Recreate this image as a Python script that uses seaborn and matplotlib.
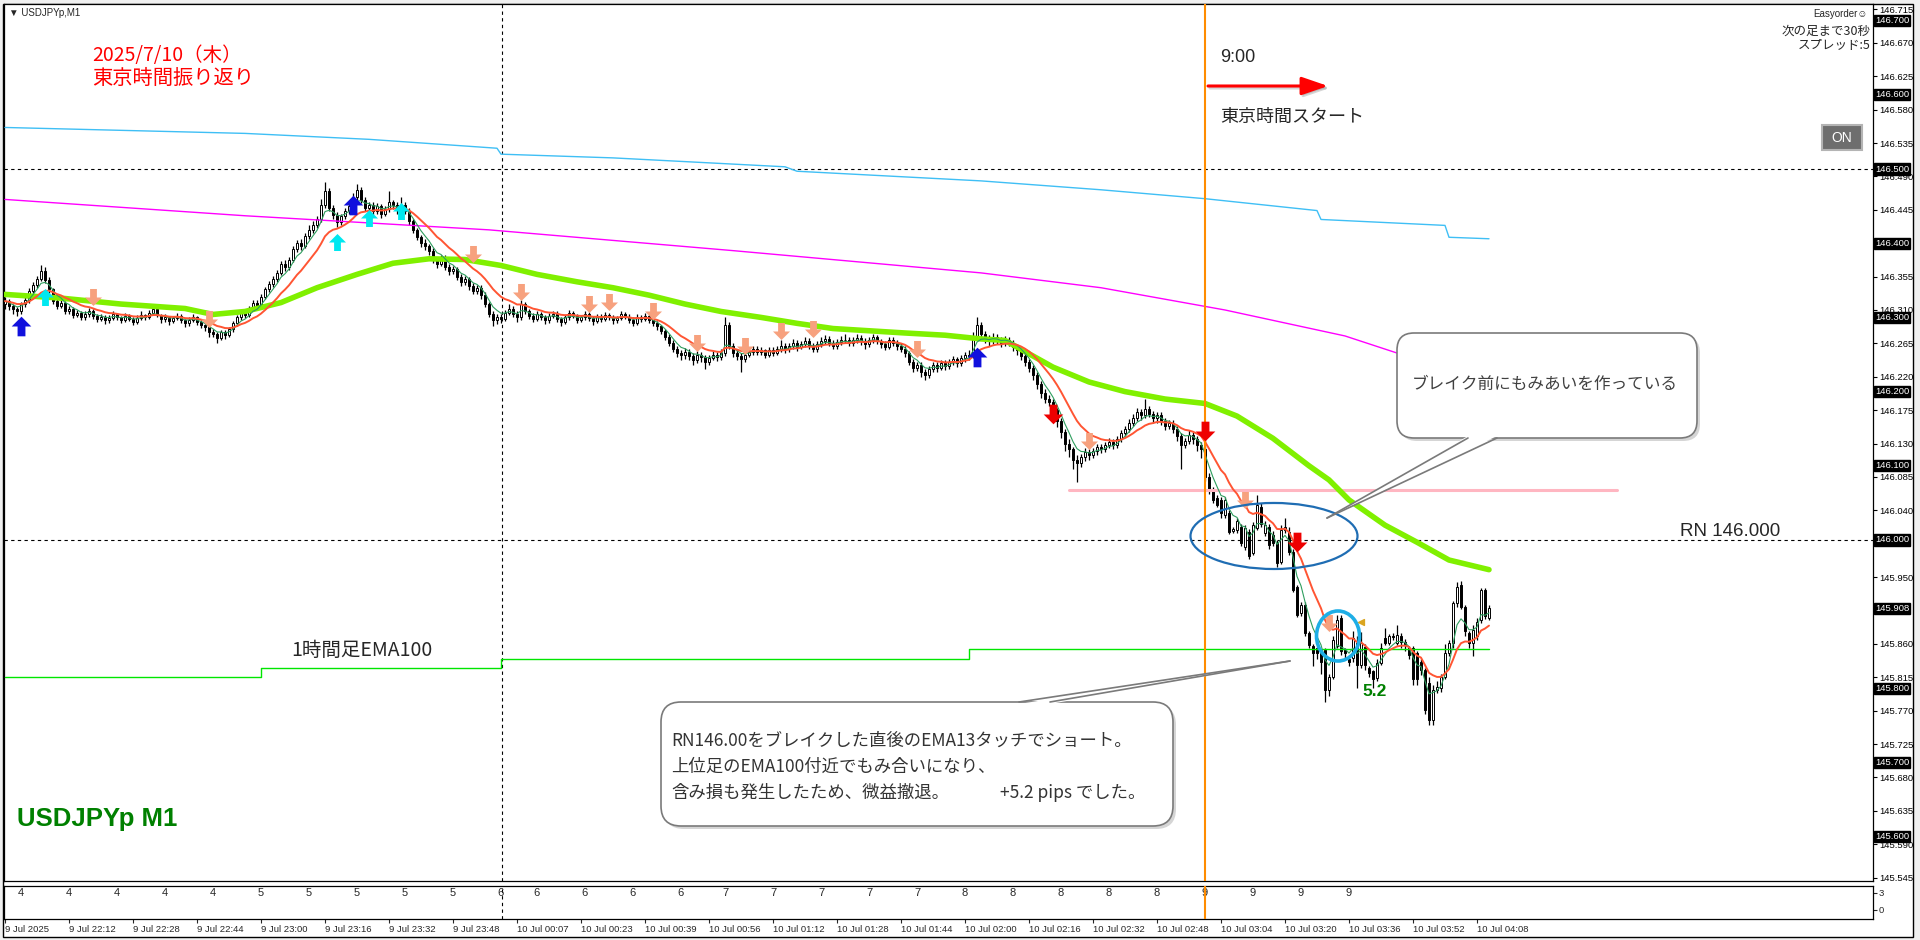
import numpy as np
import pandas as pd
import matplotlib
matplotlib.use("Agg")
import matplotlib.pyplot as plt
from matplotlib.patches import FancyBboxPatch, Polygon, Ellipse, Rectangle, FancyArrowPatch
from matplotlib.lines import Line2D
from matplotlib.path import Path
from matplotlib.transforms import IdentityTransform
import seaborn as sns

# ---------------- data ----------------
# candle prices in 0.001 steps around 146.000  (310 -> 146.310), one per M1 bar
opens = [318, 322, 315, 312, 308, 318, 324, 336, 344, 352, 362, 350, 338, 322, 316, 319, 308, 312, 303, 306,
         300, 304, 309, 302, 298, 301, 296, 299, 304, 300, 297, 302, 298, 294, 299, 303, 300, 306, 311, 303,
         298, 300, 295, 299, 302, 296, 292, 297, 300, 294, 290, 287, 280, 278, 272, 280, 276, 284, 292, 300,
         306, 303, 312, 320, 316, 328, 338, 345, 352, 360, 372, 368, 378, 392, 400, 396, 410, 418, 425, 432,
         452, 470, 448, 438, 428, 436, 444, 450, 462, 472, 458, 448, 452, 444, 450, 440, 446, 455, 452, 446,
         451, 443, 430, 418, 408, 400, 396, 390, 378, 372, 380, 368, 362, 365, 355, 348, 352, 342, 336, 340,
         330, 318, 305, 296, 300, 298, 306, 312, 305, 300, 318, 308, 302, 298, 304, 300, 296, 302, 305, 298,
         294, 300, 306, 302, 297, 300, 304, 299, 295, 301, 298, 303, 300, 296, 299, 304, 301, 297, 293, 300,
         298, 302, 297, 292, 288, 282, 274, 266, 258, 252, 249, 254, 248, 243, 250, 246, 240, 245, 250, 247,
         252, 290, 262, 252, 248, 244, 250, 254, 258, 254, 256, 250, 256, 252, 258, 262, 257, 262, 266, 260,
         264, 268, 262, 258, 264, 268, 271, 266, 262, 267, 270, 269, 266, 270, 272, 268, 264, 270, 273, 268,
         264, 260, 270, 266, 262, 258, 252, 240, 232, 236, 226, 222, 230, 236, 232, 238, 234, 240, 244, 238,
         245, 250, 248, 275, 290, 278, 272, 268, 274, 270, 265, 270, 266, 260, 256, 248, 240, 232, 222, 210,
         198, 190, 186, 175, 160, 145, 130, 122, 108, 104, 112, 118, 114, 120, 126, 122, 128, 132, 128, 136,
         144, 150, 158, 164, 172, 168, 176, 170, 164, 168, 160, 154, 158, 150, 140, 128, 134, 142, 136, 128,
         122, 85, 67, 56, 54, 34, 36, 12, 13, 18, -9, 11, -18, 16, 45, 9, 18, 7, -4, -29,
         13, 11, -16, -63, -99, -87, -125, -143, -146, -152, -148, -202, -184, -143, -105, -148, -161, -159, -139, -168,
         -144, -172, -177, -186, -166, -132, -139, -130, -139, -130, -137, -146, -146, -152, -164, -175, -193, -242, -202, -200,
         -184, -152, -139, -85, -61, -90, -125, -139, -130, -108, -67, -105]
highs = [328, 325, 318, 314, 321, 327, 340, 348, 356, 370, 368, 354, 340, 325, 323, 322, 316, 314, 310, 309,
         308, 313, 312, 305, 305, 303, 303, 308, 306, 302, 306, 304, 300, 303, 308, 305, 310, 318, 313, 305,
         304, 302, 302, 306, 304, 298, 300, 304, 302, 296, 291, 288, 284, 281, 283, 283, 287, 295, 303, 310,
         309, 315, 324, 323, 331, 341, 349, 356, 364, 376, 378, 382, 396, 404, 405, 414, 424, 430, 437, 460,
         482, 474, 452, 442, 440, 448, 455, 468, 480, 476, 462, 456, 456, 454, 453, 450, 470, 458, 455, 462,
         455, 447, 433, 421, 411, 406, 399, 393, 382, 384, 384, 372, 369, 368, 358, 356, 355, 346, 344, 344,
         334, 321, 309, 304, 304, 310, 318, 315, 308, 324, 321, 312, 306, 308, 307, 303, 306, 309, 308, 301,
         303, 310, 309, 305, 303, 308, 307, 302, 304, 304, 307, 306, 303, 302, 309, 307, 304, 300, 304, 303,
         306, 305, 300, 295, 290, 285, 277, 269, 261, 256, 259, 257, 252, 255, 253, 249, 249, 255, 254, 258,
         300, 294, 266, 256, 252, 254, 258, 262, 261, 260, 258, 260, 260, 262, 269, 266, 266, 271, 269, 268,
         273, 272, 265, 268, 273, 276, 275, 269, 271, 275, 278, 273, 274, 277, 276, 272, 274, 278, 276, 271,
         268, 274, 273, 270, 266, 262, 255, 244, 240, 240, 230, 234, 240, 240, 242, 242, 244, 248, 247, 249,
         254, 256, 280, 300, 294, 282, 276, 279, 277, 273, 275, 274, 269, 263, 259, 252, 244, 236, 226, 214,
         204, 196, 190, 178, 164, 150, 136, 126, 114, 116, 124, 122, 124, 130, 130, 132, 137, 136, 140, 148,
         154, 163, 170, 178, 177, 190, 180, 174, 172, 172, 164, 162, 162, 154, 144, 138, 148, 146, 140, 132,
         142, 90, 72, 60, 58, 58, 40, 18, 30, 22, 20, 15, 24, 60, 50, 25, 22, 12, 0, 20,
         29, 18, -12, -60, -83, -84, -122, -140, -144, -150, -145, -180, -130, -101, -101, -146, -158, -123, -130, -124,
         -140, -170, -175, -160, -139, -119, -127, -125, -115, -125, -134, -143, -143, -150, -160, -172, -185, -195, -190, -180,
         -140, -135, -82, -56, -55, -87, -122, -115, -105, -65, -65, -88]
lows = [312, 310, 305, 302, 305, 314, 320, 333, 340, 349, 346, 333, 318, 311, 313, 304, 305, 299, 300, 296,
        297, 301, 298, 294, 295, 291, 293, 297, 296, 292, 294, 295, 290, 291, 297, 296, 298, 303, 300, 293,
        294, 290, 292, 297, 292, 287, 289, 294, 290, 286, 282, 274, 273, 266, 269, 271, 273, 281, 289, 297,
        299, 300, 310, 313, 314, 325, 334, 341, 348, 357, 363, 364, 375, 388, 391, 393, 406, 414, 420, 428,
        448, 444, 433, 422, 425, 432, 440, 446, 458, 454, 443, 444, 438, 440, 434, 436, 442, 446, 440, 442,
        439, 425, 414, 404, 395, 391, 384, 373, 366, 369, 364, 357, 358, 350, 343, 344, 337, 331, 332, 325,
        314, 300, 288, 291, 292, 295, 303, 301, 294, 297, 304, 298, 294, 295, 296, 291, 293, 299, 294, 289,
        291, 297, 299, 293, 294, 297, 295, 290, 292, 294, 295, 297, 291, 293, 296, 298, 293, 288, 290, 294,
        295, 293, 288, 283, 278, 270, 262, 254, 246, 243, 244, 243, 236, 239, 240, 230, 236, 242, 241, 243,
        248, 258, 247, 242, 226, 240, 246, 250, 249, 250, 245, 247, 248, 249, 254, 252, 254, 258, 255, 257,
        260, 258, 253, 254, 260, 264, 262, 257, 258, 263, 265, 261, 262, 266, 263, 258, 260, 266, 264, 259,
        256, 258, 261, 256, 253, 247, 236, 226, 228, 220, 215, 218, 226, 227, 229, 229, 230, 236, 233, 234,
        240, 243, 245, 270, 274, 266, 262, 264, 264, 260, 261, 261, 255, 250, 243, 235, 226, 216, 203, 192,
        184, 180, 170, 152, 138, 120, 112, 96, 78, 98, 106, 108, 110, 115, 117, 118, 124, 122, 124, 132,
        140, 146, 154, 160, 162, 165, 166, 158, 158, 155, 148, 150, 144, 134, 96, 124, 130, 130, 120, 110,
        80, 62, 50, 44, 30, 30, 8, 9, 10, -8, -14, -26, -20, 14, 18, 5, -12, -8, -36, -32,
        10, -20, -70, -104, -102, -130, -145, -170, -160, -180, -218, -210, -188, -146, -155, -160, -170, -165, -200, -172,
        -175, -185, -200, -190, -168, -142, -142, -135, -142, -145, -150, -160, -195, -195, -182, -235, -250, -250, -206, -205,
        -188, -156, -145, -90, -93, -130, -145, -157, -135, -112, -107, -108]
closes = [322, 315, 312, 308, 318, 324, 336, 344, 352, 362, 350, 338, 322, 316, 319, 308, 312, 303, 306, 300,
          304, 309, 302, 298, 301, 296, 299, 304, 300, 297, 302, 298, 294, 299, 303, 300, 306, 311, 303, 298,
          300, 295, 299, 302, 296, 292, 297, 300, 294, 290, 287, 280, 278, 272, 280, 276, 284, 292, 300, 306,
          303, 312, 320, 316, 328, 338, 345, 352, 360, 372, 368, 378, 392, 400, 396, 410, 418, 425, 432, 452,
          470, 448, 438, 428, 436, 444, 450, 462, 472, 458, 448, 452, 444, 450, 440, 446, 455, 452, 446, 451,
          443, 430, 418, 408, 400, 396, 390, 378, 372, 380, 368, 362, 365, 355, 348, 352, 342, 336, 340, 330,
          318, 305, 296, 300, 298, 306, 312, 305, 300, 318, 308, 302, 298, 304, 300, 296, 302, 305, 298, 294,
          300, 306, 302, 297, 300, 304, 299, 295, 301, 298, 303, 300, 296, 299, 304, 301, 297, 293, 300, 298,
          302, 297, 292, 288, 282, 274, 266, 258, 252, 249, 254, 248, 243, 250, 246, 240, 245, 250, 247, 252,
          290, 262, 252, 248, 244, 250, 254, 258, 254, 256, 250, 256, 252, 258, 262, 257, 262, 266, 260, 264,
          268, 262, 258, 264, 268, 271, 266, 262, 267, 270, 269, 266, 270, 272, 268, 264, 270, 273, 268, 264,
          260, 270, 266, 262, 258, 252, 240, 232, 236, 226, 222, 230, 236, 232, 238, 234, 240, 244, 238, 245,
          250, 248, 275, 290, 278, 272, 268, 274, 270, 265, 270, 266, 260, 256, 248, 240, 232, 222, 210, 198,
          190, 186, 175, 160, 145, 130, 122, 108, 104, 112, 118, 114, 120, 126, 122, 128, 132, 128, 136, 144,
          150, 158, 164, 172, 168, 176, 170, 164, 168, 160, 154, 158, 150, 140, 128, 134, 142, 136, 128, 122,
          85, 68, 54, 47, 36, 54, 11, 15, 25, -4, 16, -22, 20, 47, 22, 20, -7, -4, -31, 13,
          18, -16, -67, -101, -87, -126, -141, -152, -152, -164, -202, -184, -135, -108, -150, -152, -164, -132, -168, -139,
          -168, -179, -188, -166, -146, -139, -130, -131, -128, -137, -141, -155, -188, -188, -175, -229, -242, -202, -198, -184,
          -152, -139, -85, -63, -90, -123, -139, -121, -110, -67, -103, -92]

# thick lime EMA at sample bars
lime_bars = [0, 14, 29, 45, 52, 60, 69, 78, 88, 97, 106, 115, 124, 133, 143, 152, 161, 170, 179, 189,
             198, 207, 216, 225, 235, 244, 250, 256, 262, 271, 280, 290, 300, 308, 317, 326, 331, 336, 345, 353, 361, 371]
lime_vals = [331, 326, 318, 312, 304, 308, 320, 340, 358, 373, 379, 378, 370, 358, 348, 340, 330, 318, 308, 300,
             292, 285, 282, 279, 276, 271, 269, 251, 233, 213, 200, 190, 184, 167, 137, 100, 81, 54, 20, -3, -27, -40]
# magenta long EMA
mag_bars = [0, 60, 121, 182, 244, 274, 305, 335, 348, 371]
mag_vals = [459, 437, 418, 390, 360, 340, 310, 275, 252, 230]
# light blue higher timeframe line
sky_bars = [0, 60, 91, 123, 124, 152, 195, 198, 244, 274, 300, 328, 329, 360, 361, 371]
sky_vals = [556, 548, 540, 528, 520, 515, 503, 497, 484, 472, 460, 444, 432, 424, 408, 406]
# 1 hour EMA100 (step line)
h1_bars = [0, 64, 124, 241, 371]
h1_vals = [-185, -172, -160, -147, -147]
# horizontal pink line
pink_bars = [266, 403]
pink_level = 67

# signal arrows
blue_up_bars, blue_up_vals = [4, 87, 243], [288, 452, 246]
cyan_up_bars, cyan_up_vals = [10, 83, 91, 99], [327, 401, 434, 444]
salmon_dn_bars = [22, 51, 117, 129, 146, 151, 162, 173, 185, 194, 202, 228, 271, 310, 331]
salmon_dn_vals = [327, 298, 386, 334, 318, 321, 308, 266, 261, 282, 285, 257, 134, 54, -112]
red_dn_bars, red_dn_vals = [262, 300, 323], [170, 147, -3]

price_ticks = [145.545, 145.590, 145.635, 145.680, 145.725, 145.770, 145.815, 145.860, 145.905,
               145.950, 145.995, 146.040, 146.085, 146.130, 146.175, 146.220, 146.265, 146.310,
               146.355, 146.400, 146.445, 146.490, 146.535, 146.580, 146.625, 146.670, 146.715]
boxed_prices = [146.700, 146.600, 146.500, 146.400, 146.300, 146.200, 146.100, 146.000,
                145.908, 145.800, 145.700, 145.600]
time_labels = ['9 Jul 2025', '9 Jul 22:12', '9 Jul 22:28', '9 Jul 22:44', '9 Jul 23:00', '9 Jul 23:16',
               '9 Jul 23:32', '9 Jul 23:48', '10 Jul 00:07', '10 Jul 00:23', '10 Jul 00:39', '10 Jul 00:56',
               '10 Jul 01:12', '10 Jul 01:28', '10 Jul 01:44', '10 Jul 02:00', '10 Jul 02:16', '10 Jul 02:32',
               '10 Jul 02:48', '10 Jul 03:04', '10 Jul 03:20', '10 Jul 03:36', '10 Jul 03:52', '10 Jul 04:08']
time_label_bars = [16 * k for k in range(len(time_labels))]
hour_labels = ['4'] * 5 + ['5'] * 5 + ['6'] * 5 + ['7'] * 5 + ['8'] * 5 + ['9'] * 4
hour_bars = [4, 16, 28, 40, 52, 64, 76, 88, 100, 112, 124, 133, 145, 157, 169, 180, 192, 204, 216, 228,
             240, 252, 264, 276, 288, 300, 312, 324, 336]


def px(v):
    return 146 + np.asarray(v) / 1000


# ---------------- figure ----------------
sns.set_theme(style="white")
plt.rcParams["font.family"] = ["Noto Sans CJK JP", "DejaVu Sans"]
W, H = 1920, 940
fig = plt.figure(figsize=(19.2, 9.4), dpi=100, facecolor="#f0f0f0")
T = IdentityTransform()

def fp(x, y):
    # image pixel (top-left origin) -> figure fraction
    return x / W, 1 - y / H

fig.add_artist(Rectangle((3, 3), 1910, 933, fc="white", ec="black", lw=1, transform=T, zorder=-1))

ax = fig.add_axes([4 / W, 1 - 881 / H, 1869 / W, 877 / H])
ax2 = fig.add_axes([4 / W, 1 - 919 / H, 1869 / W, 33 / H])
XL = (-0.25, 467)

# candles
df = pd.DataFrame({"bar": np.arange(len(closes)),
                   "o": px(opens), "h": px(highs), "l": px(lows), "c": px(closes)})
bull = df.c >= df.o
ax.vlines(df.bar, df.l, df.h, color="black", lw=0.9, zorder=2)
ax.bar(df.bar, df.c - df.o, bottom=df.o, width=0.62, color=np.where(bull, "white", "black"),
       edgecolor="black", linewidth=0.7, zorder=3)

# indicator lines
ema13 = df.c.ewm(span=13, adjust=False).mean()
ema5 = df.c.ewm(span=5, adjust=False).mean()
sns.lineplot(x=sky_bars, y=px(sky_vals), ax=ax, color="#3fbff5", lw=1.0, estimator=None, sort=False, zorder=4)
sns.lineplot(x=mag_bars, y=px(mag_vals), ax=ax, color="#ff00ff", lw=1.0, estimator=None, sort=False, zorder=4)
sns.lineplot(x=h1_bars, y=px(h1_vals), ax=ax, color="#00e600", lw=1.0, drawstyle="steps-post",
             estimator=None, sort=False, zorder=4)
sns.lineplot(x=lime_bars, y=px(lime_vals), ax=ax, color="#80f000", lw=4.0, estimator=None, sort=False, zorder=5)
sns.lineplot(x=df.bar.values, y=ema5.values, ax=ax, color="#2e9e5e", lw=0.8, estimator=None, sort=False, zorder=5)
sns.lineplot(x=df.bar.values, y=ema13.values, ax=ax, color="#ff5533", lw=1.4, estimator=None, sort=False, zorder=5)
ax.plot(pink_bars, [px(pink_level)] * 2, color="#ffb6c1", lw=2.2, zorder=4)

ax.axhline(146.5, color="black", lw=0.8, ls=(0, (3, 3)), zorder=1)
ax.axhline(146.0, color="black", lw=0.8, ls=(0, (3, 3)), zorder=1)
for a in (ax, ax2):
    a.axvline(124.25, color="black", lw=0.8, ls=(0, (3, 3)), zorder=1)
    a.axvline(300, color="#ff8c00", lw=1.5, zorder=6)

# signal arrows
dn = Path([(-0.2, 0.5), (0.2, 0.5), (0.2, 0.0), (0.5, 0.0), (0, -0.5), (-0.5, 0.0), (-0.2, 0.0), (-0.2, 0.5)],
          closed=True)
up = Path([(-0.2, -0.5), (0.2, -0.5), (0.2, 0.0), (0.5, 0.0), (0, 0.5), (-0.5, 0.0), (-0.2, 0.0), (-0.2, -0.5)],
          closed=True)
ax.scatter(salmon_dn_bars, px(salmon_dn_vals), marker=dn, s=150, color="#f7a17e", lw=0, zorder=7)
ax.scatter(red_dn_bars, px(red_dn_vals), marker=dn, s=200, color="#ee0000", lw=0, zorder=7)
ax.scatter(cyan_up_bars, px(cyan_up_vals), marker=up, s=150, color="#00e8f0", lw=0, zorder=7)
ax.scatter(blue_up_bars, px(blue_up_vals), marker=up, s=200, color="#1010dd", lw=0, zorder=7)

# ellipse and circle
ax.add_patch(Ellipse((317.25, 146.0054), 41.75, 0.089, fill=False, ec="#1f6db3", lw=1.6, zorder=8))
ax.add_patch(Ellipse((333.25, 145.8706), 10.75, 0.0674, fill=False, ec="#1eaee6", lw=2.6, zorder=8))
ax.scatter([339], [px(-111)], marker="<", s=18, color="#daa520", zorder=8)

ax.set_xlim(*XL)
ax.set_ylim(145.5404, 146.7224)
ax.set_xlabel("")
ax.set_ylabel("")
ax.set_xticks([])
ax.set_yticks(price_ticks)
# labels hidden under the black price boxes are left empty
ax.set_yticklabels(["" if min(abs(p - b) for b in boxed_prices) < 0.0055 else f"{p:.3f}" for p in price_ticks],
                   fontsize=6.8, family="Liberation Sans")
ax.tick_params(axis="y", left=False, right=True, labelleft=False, labelright=True, direction="out",
               length=3, width=0.8, pad=1.2, colors="black")
trans = ax.get_yaxis_transform()
for p in boxed_prices:
    ax.text(1.0 + 2 / 1869, p, f"{p:.3f}", transform=trans, ha="left", va="center", fontsize=6.8,
            family="Liberation Sans", color="white", clip_on=False, zorder=10,
            bbox=dict(boxstyle="square,pad=0.12", fc="black", ec="black"))

ax2.set_xlim(*XL)
ax2.set_ylim(-1.59, 4.23)
ax2.set_xlabel("")
ax2.set_ylabel("")
ax2.set_yticks([0, 3])
ax2.set_yticklabels(["0", "3"], fontsize=6.8, family="Liberation Sans")
ax2.tick_params(axis="y", left=False, right=True, labelleft=False, labelright=True, direction="out",
                length=3, width=0.8, pad=1.2)
ax2.set_xticks(time_label_bars)
ax2.set_xticklabels(time_labels, fontsize=6.8, family="Liberation Sans", ha="left")
ax2.tick_params(axis="x", bottom=True, direction="out", length=3, width=0.8, pad=1)
for b, lab in zip(hour_bars, hour_labels):
    ax2.text(b, 3, lab, ha="center", va="center", fontsize=8, family="Liberation Sans")
for a in (ax, ax2):
    for s in a.spines.values():
        s.set_color("black")
        s.set_linewidth(0.9)

# ---------------- texts ----------------
fig.text(*fp(9, 13), "▼ USDJPYp,M1", fontsize=7, va="center", family=["Liberation Sans", "DejaVu Sans"])
fig.text(*fp(92, 55), "2025/7/10（木）", fontsize=14, color="#ff0000", va="center")
fig.text(*fp(92, 78), "東京時間振り返り", fontsize=14.6, color="#ff0000", va="center")
fig.text(*fp(1220, 57), "9:00", fontsize=13, va="center", family="Liberation Sans")
fig.text(*fp(1220, 117), "東京時間スタート", fontsize=13, va="center")
fig.add_artist(FancyArrowPatch((1210, H - 88), (1330, H - 88), arrowstyle="-|>,head_length=16,head_width=5.5",
                               mutation_scale=1, color="#999999", alpha=0.4, lw=2.2, shrinkA=0, shrinkB=0,
                               transform=T, zorder=7))
fig.add_artist(FancyArrowPatch((1208, H - 86), (1328, H - 86), arrowstyle="-|>,head_length=16,head_width=5.5",
                               mutation_scale=1, color="#ff0000", lw=2.2, shrinkA=0, shrinkB=0,
                               transform=T, zorder=8))
fig.text(*fp(1868, 14), "Easyorder☺", fontsize=7, ha="right", va="center",
         family=["Liberation Sans", "DejaVu Sans"])
fig.text(*fp(1871, 31), "次の足まで30秒", fontsize=9, ha="right", va="center")
fig.text(*fp(1871, 45), "スプレッド:5", fontsize=9, ha="right", va="center")
fig.add_artist(Rectangle((1822, H - 150), 40, 25, fc="#6e6e6e", ec="#b4b4b4", lw=1.5, transform=T, zorder=8))
fig.text(*fp(1842, 138), "ON", fontsize=10, ha="center", va="center", color="white", family="Liberation Sans",
         zorder=9)
fig.text(*fp(1680, 531), "RN 146.000", fontsize=13.5, va="center", family="Liberation Sans")
fig.text(*fp(291, 650), "1時間足EMA100", fontsize=14, va="center")
fig.text(*fp(17, 819), "USDJPYp M1", fontsize=18.5, fontweight="bold", color="#008000", va="center",
         family="Liberation Sans")
fig.text(*fp(1362, 692), "5.2", fontsize=12.5, fontweight="bold", color="#008000", va="center",
         family="Liberation Sans")


def callout(x0, y0, x1, y1, r, base, tip):
    # x0..y1 image px box; base = (xa, xb, y) on box edge; tip = (x, y)
    style = f"round,pad=0,rounding_size={r}"
    fig.add_artist(FancyBboxPatch((x0 + 3, H - y1 - 3), x1 - x0, y1 - y0, boxstyle=style, fc="#888888",
                                  ec="none", alpha=0.35, transform=T, zorder=11))
    fig.add_artist(FancyBboxPatch((x0, H - y1), x1 - x0, y1 - y0, boxstyle=style, fc="white",
                                  ec="#7a7a7a", lw=1.2, transform=T, zorder=12))
    xa, xb, yb = base
    inside = 2 if yb == y1 else -2
    fig.add_artist(Polygon([(xa, H - yb + inside), (xb, H - yb + inside), (tip[0], H - tip[1])],
                           closed=True, fc="white", ec="none", transform=T, zorder=13))
    for xe in (xa, xb):
        fig.add_artist(Line2D([xe, tip[0]], [H - yb, H - tip[1]], color="#7a7a7a", lw=1.2,
                              transform=T, zorder=13))


callout(1397, 333, 1697, 438, 17, (1468, 1497, 438), (1327, 518))
fig.text(*fp(1412, 384), "ブレイク前にもみあいを作っている", fontsize=12, color="#404040", va="center", zorder=14)
callout(661, 702, 1173, 826, 20, (1019, 1050, 702), (1290, 661))
fig.text(*fp(671, 741), "RN146.00をブレイクした直後のEMA13タッチでショート。", fontsize=12.5, color="#333333",
         va="center", zorder=14)
fig.text(*fp(671, 767), "上位足のEMA100付近でもみ合いになり、", fontsize=12.5, color="#333333", va="center", zorder=14)
fig.text(*fp(671, 793), "含み損も発生したため、微益撤退。", fontsize=12.5, color="#333333", va="center", zorder=14)
fig.text(*fp(1000, 793), "+5.2 pips でした。", fontsize=12.5, color="#333333", va="center", zorder=14)

fig.savefig("out.png", dpi=100, facecolor=fig.get_facecolor())
